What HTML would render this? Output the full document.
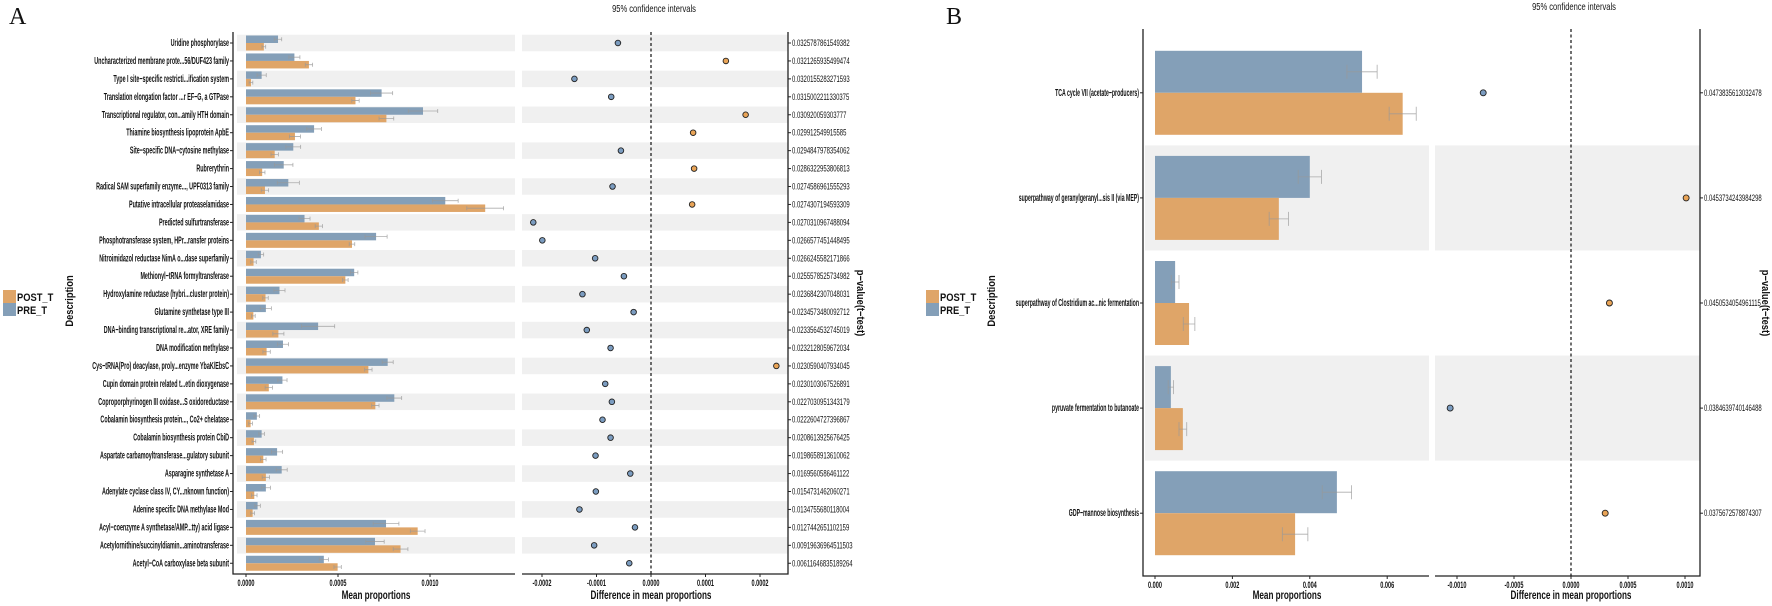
<!DOCTYPE html>
<html><head><meta charset="utf-8"><style>
html,body{margin:0;padding:0;background:#fff;}
svg{display:block;font-family:"Liberation Sans",sans-serif;}
</style></head><body>
<svg id="chart" width="1772" height="606" viewBox="0 0 1772 606" xmlns="http://www.w3.org/2000/svg"></svg>
<script>
// ---------- Panel A data ----------
const catsA = ["Uridine phosphorylase","Uncharacterized membrane prote...56/DUF423 family","Type I site\u2212specific restricti...ification system","Translation elongation factor ...r EF\u2212G, a GTPase","Transcriptional regulator, con...amily HTH domain","Thiamine biosynthesis lipoprotein ApbE","Site\u2212specific DNA\u2212cytosine methylase","Rubrerythrin","Radical SAM superfamily enzyme..., UPF0313 family","Putative intracellular protease/amidase","Predicted sulfurtransferase","Phosphotransferase system, HPr...ransfer proteins","Nitroimidazol reductase NimA o...dase superfamily","Methionyl\u2212tRNA formyltransferase","Hydroxylamine reductase (hybri...cluster protein)","Glutamine synthetase type III","DNA\u2212binding transcriptional re...ator, XRE family","DNA modification methylase","Cys\u2212tRNA(Pro) deacylase, proly...enzyme YbaK/EbsC","Cupin domain protein related t...etin dioxygenase","Coproporphyrinogen III oxidase...S oxidoreductase","Cobalamin biosynthesis protein..., Co2+ chelatase","Cobalamin biosynthesis protein CbiD","Aspartate carbamoyltransferase...gulatory subunit","Asparagine synthetase A","Adenylate cyclase class IV, CY...nknown function)","Adenine specific DNA methylase Mod","Acyl\u2212coenzyme A synthetase/AMP...tty) acid ligase","Acetylornithine/succinyldiamin...aminotransferase","Acetyl\u2212CoA carboxylase beta subunit"];
const preA = [0.000174,0.000263,0.000085,0.000737,0.000962,0.000370,0.000257,0.000205,0.000230,0.001083,0.000318,0.000707,0.000081,0.000588,0.000182,0.000108,0.000392,0.000201,0.000770,0.000198,0.000806,0.000059,0.000085,0.000169,0.000194,0.000108,0.000063,0.000761,0.000701,0.000423];
const postA = [0.000097,0.000342,0.000027,0.000595,0.000763,0.000266,0.000156,0.000088,0.000103,0.001300,0.000396,0.000576,0.000041,0.000540,0.000106,0.000040,0.000176,0.000112,0.000665,0.000124,0.000703,0.000025,0.000043,0.000094,0.000108,0.000045,0.000036,0.000933,0.000840,0.000498];
const preErrA = [0.00002,0.00003,0.000025,0.00006,0.00008,0.00004,0.00004,0.00005,0.00006,0.00007,0.00003,0.00006,0.000015,0.00002,0.00003,0.00003,0.00009,0.00003,0.00003,0.000025,0.00004,0.000015,0.000015,0.00003,0.00003,0.000025,0.000015,0.00007,0.00005,0.000025];
const postErrA = [0.00001,0.00002,0.00001,0.00002,0.00004,0.00003,0.00002,0.000015,0.00002,0.0001,0.00002,0.000015,0.000015,0.000015,0.000015,0.00001,0.00003,0.00002,0.00002,0.00002,0.00002,0.00001,0.00001,0.000015,0.00002,0.000015,0.00001,0.00004,0.00004,0.00002];
const diffA = [-0.0000607,0.0001374,-0.0001405,-0.000073,0.0001736,0.0000773,-0.0000552,0.0000791,-0.0000706,0.0000755,-0.000216,-0.0001994,-0.0001025,-0.0000497,-0.0001258,-0.0000319,-0.0001178,-0.0000742,0.00023,-0.000084,-0.0000718,-0.000089,-0.0000742,-0.0001018,-0.000038,-0.0001012,-0.0001313,-0.0000294,-0.0001043,-0.0000399];
const pvalA = ["0.0325787861549382","0.0321265935499474","0.0320155283271593","0.0315002211330375","0.030920059303777","0.029912549915585","0.0294847978354062","0.0286322953806813","0.0274586961555293","0.0274307194593309","0.0270310967488094","0.0266577451448495","0.0266245582171866","0.0255578525734982","0.0236842307048031","0.0234573480092712","0.0233564532745019","0.0232128059672034","0.0230590407934045","0.0230103067526891","0.0227030951343179","0.0222604727396867","0.0208613925676425","0.0198658913610062","0.0169560586461122","0.0154731462060271","0.0134755680118004","0.0127442651102159","0.00919636964511503","0.00611646835189264"];
const barTicksA = [0, 0.0005, 0.0010];
const barTickLabelsA = ["0.0000","0.0005","0.0010"];
const diffTicksA = [-0.0002,-0.0001,0,0.0001,0.0002];
const diffTickLabelsA = ["-0.0002","-0.0001","0.0000","0.0001","0.0002"];

// ---------- Panel B data ----------
const catsB = ["TCA cycle VII (acetate\u2212producers)","superpathway of geranylgeranyl...sis II (via MEP)","superpathway of Clostridium ac...nic fermentation","pyruvate fermentation to butanoate","GDP\u2212mannose biosynthesis"];
const preB = [0.00535,0.0040,0.00052,0.00041,0.0047];
const postB = [0.0064,0.0032,0.00088,0.00072,0.00362];
const preErrB = [0.00039,0.0003,0.0001,0.00007,0.00038];
const postErrB = [0.00035,0.00025,0.00015,0.0001,0.00033];
const diffB = [-0.00077,0.00101,0.000337,-0.00106,0.0003];
const pvalB = ["0.0473835613032478","0.0453734243984298","0.0450534054961115","0.0384639740146488","0.0375672578874307"];
const barTicksB = [0,0.002,0.004,0.006];
const barTickLabelsB = ["0.000","0.002","0.004","0.006"];
const diffTicksB = [-0.001,-0.0005,0,0.0005,0.001];
const diffTickLabelsB = ["-0.0010","-0.0005","0.0000","0.0005","0.0010"];

const NS = "http://www.w3.org/2000/svg";
const svg = document.getElementById("chart");
const PRE_C = "#849fb8", POST_C = "#dfa568", BAND = "#f0f0f0";
function el(tag, attrs, parent){const e=document.createElementNS(NS,tag);for(const k in attrs)e.setAttribute(k,attrs[k]);(parent||svg).appendChild(e);return e;}
function txt(x,y,s,o,parent){
  o=o||{};
  const t=el("text",{x:0,y:0,"font-size":o.size||9,"font-weight":o.weight||"bold","text-anchor":o.anchor||"start",fill:o.fill||"#111",
    transform:`translate(${x},${y}) rotate(${o.rot||0}) scale(${o.sx||1},1)`,"font-family":o.family||'"Liberation Sans",sans-serif'},parent);
  t.textContent=s;return t;
}

function panel(cfg){
  const g=el("g",{});
  
  
  const n=cfg.cats.length;
  const rowY=i=>cfg.y0+i*cfg.step;
  const bx=v=>cfg.bx0+v*cfg.bscale;
  const dx=v=>cfg.dx0+v*cfg.dscale;
  // bands
  for(let i=0;i<n;i++){
    if(i%2===cfg.bandParity){
      const h=cfg.step*cfg.bandFrac;
      const b1=el("rect",{x:cfg.bL,y:rowY(i)-h/2,width:cfg.bR-cfg.bL,height:h,fill:BAND},g);
      
      
      const b2=el("rect",{x:cfg.dL,y:rowY(i)-h/2,width:cfg.dR-cfg.dL,height:h,fill:BAND},g);
      
      
    }
  }
  // dashed zero
  const dz=el("line",{x1:dx(0),x2:dx(0),y1:cfg.top,y2:cfg.bottom,stroke:"#222","stroke-width":1.3,"stroke-dasharray":"3,2.5"},g);
  
  
  for(let i=0;i<n;i++){
    const c=rowY(i), bh=cfg.barH;
    const r1=el("rect",{x:bx(0),y:c-bh,width:bx(cfg.pre[i])-bx(0),height:bh,fill:PRE_C},g);
    
    
    const r2=el("rect",{x:bx(0),y:c,width:bx(cfg.post[i])-bx(0),height:bh,fill:POST_C},g);
    
    
    [[cfg.pre[i],cfg.preErr[i],c-bh/2],[cfg.post[i],cfg.postErr[i],c+bh/2]].forEach(([v,e,yy])=>{
      const cap=cfg.cap;
      const eb=el("path",{d:`M${bx(v-e)},${yy}H${bx(v+e)}M${bx(v-e)},${yy-cap}V${yy+cap}M${bx(v+e)},${yy-cap}V${yy+cap}`,stroke:"#999","stroke-width":0.8,fill:"none",opacity:0.8},g);
      
      
    });
    const d=cfg.diff[i];
    const dot=el("circle",{cx:dx(d),cy:c,r:cfg.dotR,fill:d<0?"#7b9cc0":"#e9a457",stroke:"#222","stroke-width":0.9},g);
    
    
    // category label
    const lt=txt(cfg.bAxisX-4,c+3,cfg.cats[i],{size:cfg.lblSize,anchor:"end",sx:cfg.lblSx},g);
    
    
    el("line",{x1:cfg.bAxisX-3,x2:cfg.bAxisX,y1:c,y2:c,stroke:"#222","stroke-width":1},g);
    el("line",{x1:cfg.dR,x2:cfg.dR+3,y1:c,y2:c,stroke:"#222","stroke-width":1},g);
    const pt=txt(cfg.dR+4,c+3,cfg.pval[i],{size:9,weight:"normal",sx:0.66},g);
    
    
  }
  // axes
  const ax1=el("path",{d:`M${cfg.bAxisX},${cfg.top}V${cfg.bottom}H${cfg.bR}`,stroke:"#222","stroke-width":1.3,fill:"none"},g);
  
  
  const ax2=el("path",{d:`M${cfg.dL},${cfg.bottom}H${cfg.dR}V${cfg.top}`,stroke:"#222","stroke-width":1.3,fill:"none"},g);
  
  
  cfg.bTicks.forEach((v,k)=>{
    el("line",{x1:bx(v),x2:bx(v),y1:cfg.bottom,y2:cfg.bottom+3,stroke:"#222"},g);
    const t=txt(bx(v),cfg.bottom+12,cfg.bTickLbl[k],{size:9,anchor:"middle",sx:0.62},g);
    
    
  });
  cfg.dTicks.forEach((v,k)=>{
    el("line",{x1:dx(v),x2:dx(v),y1:cfg.bottom,y2:cfg.bottom+3,stroke:"#222"},g);
    const t=txt(dx(v),cfg.bottom+12,cfg.dTickLbl[k],{size:9,anchor:"middle",sx:0.62},g);
    
    
  });
  const t1=txt((cfg.bL+cfg.bR)/2,599,"Mean proportions",{size:12,anchor:"middle",sx:0.68},g);
  
  
  const t2=txt(dx(0),599,"Difference in mean proportions",{size:12,anchor:"middle",sx:0.68},g);
  
  
  const t3=txt(dx(0)+3,cfg.ciY,"95% confidence intervals",{size:10.5,weight:"normal",anchor:"middle",sx:0.72},g);
  
  
  const t4=txt(cfg.descX,301,"Description",{size:11,anchor:"middle",rot:-90,sx:0.85},g);
  
  
  const t5=txt(cfg.pTitleX,303,"p\u2212value(t\u2212test)",{size:11,anchor:"middle",rot:90,sx:0.85},g);
  
  
  // legend
  const lg=el("g",{},g);
  
  
  const lx=cfg.legX;
  const e1=el("rect",{x:lx,y:290,width:13,height:13,fill:POST_C},lg);
  
  
  const e2=el("rect",{x:lx,y:303,width:13,height:13,fill:PRE_C},lg);
  
  
  const l1=txt(lx+14,301,"POST_T",{size:11,sx:0.85},lg);
  
  
  const l2=txt(lx+14,314,"PRE_T",{size:11,sx:0.85},lg);
  
  
  const pl=txt(cfg.letterX,24,cfg.letter,{size:24,weight:"normal",family:'"Liberation Serif",serif'},g);
  
  
}

panel({name:"panel-a",letter:"A",letterX:9,cats:catsA,pre:preA,post:postA,preErr:preErrA,postErr:postErrA,diff:diffA,pval:pvalA,
  y0:43,step:17.94,bandFrac:0.92,bandParity:0,barH:7.5,cap:2,dotR:2.8,
  bAxisX:233,bL:237,bR:515,bx0:246,bscale:184000,dL:522,dR:788,dx0:651,dscale:545000,
  top:32,bottom:574,bTicks:barTicksA,bTickLbl:barTickLabelsA,dTicks:diffTicksA,dTickLbl:diffTickLabelsA,
  ciY:12,descX:73,pTitleX:857,legX:3,lblSize:10,lblSx:0.54});
panel({name:"panel-b",letter:"B",letterX:946,cats:catsB,pre:preB,post:postB,preErr:preErrB,postErr:postErrB,diff:diffB,pval:pvalB,
  y0:92.8,step:105.1,bandFrac:1,bandParity:1,barH:42,cap:7,dotR:3,
  bAxisX:1143,bL:1145,bR:1429,bx0:1155,bscale:38700,dL:1435,dR:1700,dx0:1571,dscale:114000,
  top:29,bottom:576,bTicks:barTicksB,bTickLbl:barTickLabelsB,dTicks:diffTicksB,dTickLbl:diffTickLabelsB,
  ciY:10,descX:995,pTitleX:1762,legX:926,lblSize:10,lblSx:0.52});
</script>
</body></html>
